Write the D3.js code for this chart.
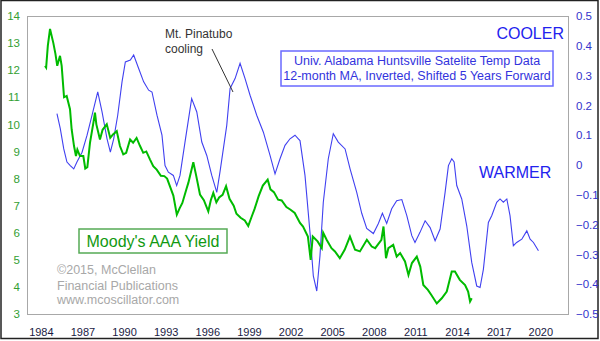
<!DOCTYPE html>
<html><head><meta charset="utf-8">
<script src="https://cdn.jsdelivr.net/npm/d3@7/dist/d3.min.js"></script>
<style>
html,body{margin:0;padding:0;background:#fff;}
svg{display:block;font-family:"Liberation Sans",Arial,sans-serif;}
</style></head>
<body>
<svg id="c" width="600" height="341"></svg>
<script>
// Moody's AAA yield (decimal year, %)
const aaaYears = [1984.30,1984.38,1984.50,1984.66,1984.90,1985.05,1985.18,1985.38,1985.50,1985.67,1985.86,1986.10,1986.22,1986.39,1986.53,1986.63,1986.82,1987.06,1987.20,1987.35,1987.54,1987.80,1987.90,1988.00,1988.26,1988.45,1988.75,1989.00,1989.20,1989.47,1989.70,1989.94,1990.15,1990.43,1990.65,1990.90,1991.15,1991.38,1991.60,1991.87,1992.10,1992.35,1992.65,1992.90,1993.10,1993.30,1993.55,1993.80,1994.00,1994.20,1994.50,1994.63,1994.99,1995.20,1995.47,1995.75,1996.07,1996.25,1996.43,1996.65,1996.85,1997.10,1997.35,1997.60,1997.90,1998.10,1998.40,1998.70,1998.95,1999.20,1999.40,1999.70,2000.00,2000.35,2000.55,2000.80,2001.10,2001.36,2001.70,2002.00,2002.30,2002.68,2002.90,2003.25,2003.45,2003.60,2003.95,2004.25,2004.35,2004.60,2004.95,2005.20,2005.55,2005.90,2006.28,2006.65,2007.00,2007.50,2007.85,2008.10,2008.55,2008.70,2008.88,2009.05,2009.40,2009.65,2009.90,2010.25,2010.50,2010.75,2011.10,2011.35,2011.57,2011.90,2012.15,2012.54,2012.90,2013.26,2013.62,2013.85,2014.20,2014.58,2014.80,2014.94,2015.06];
const aaaYield = [12.16,12.10,12.9,13.52,13.0,12.6,12.16,12.53,12.16,11.0,11.05,10.56,9.81,9.2,8.83,9.07,8.83,8.83,8.37,8.42,9.32,10.10,10.43,10.0,9.44,9.8,10.0,9.5,9.63,9.75,9.2,8.89,8.95,9.44,9.32,9.5,9.2,8.95,9.0,8.7,8.46,8.33,8.1,8.09,8.0,7.72,7.37,6.67,6.9,7.1,7.62,7.84,8.6,8.1,7.41,7.2,6.79,7.2,7.47,7.12,7.3,7.4,7.72,7.25,7.0,6.7,6.55,6.45,6.25,6.6,6.87,7.35,7.74,7.96,7.6,7.5,7.22,7.19,6.95,6.85,6.73,6.36,6.23,5.86,5.0,5.86,5.68,5.43,6.0,5.74,5.43,5.31,5.06,5.37,5.86,5.37,5.31,5.74,5.49,5.43,5.74,6.23,5.06,5.43,5.55,5.12,5.25,4.94,4.44,4.88,5.12,4.75,4.07,3.89,3.7,3.39,3.58,3.83,4.57,4.57,4.26,4.07,3.83,3.46,3.58];

// UAH satellite temp, 12-month MA, inverted, shifted 5 years (decimal year, value)
const uahYears = [1985.16,1985.40,1985.65,1985.88,1986.12,1986.37,1986.60,1986.97,1987.33,1987.69,1988.10,1988.41,1988.77,1989.01,1989.25,1989.54,1989.85,1990.09,1990.45,1990.69,1991.05,1991.41,1991.77,1992.01,1992.37,1992.73,1992.95,1993.19,1993.55,1993.79,1994.03,1994.39,1994.87,1995.24,1995.60,1995.96,1996.32,1996.68,1996.91,1997.40,1997.64,1998.00,1998.36,1998.72,1999.08,1999.56,2000.04,2000.52,2000.88,2001.24,2001.60,2001.96,2002.32,2002.56,2002.68,2003.04,2003.40,2003.64,2003.89,2004.12,2004.36,2004.72,2005.08,2005.44,2005.93,2006.29,2006.77,2007.13,2007.49,2007.97,2008.33,2008.62,2008.93,2009.29,2009.65,2010.02,2010.38,2010.74,2010.97,2011.33,2011.70,2012.06,2012.42,2012.78,2013.14,2013.38,2013.62,2013.79,2013.98,2014.34,2014.70,2015.06,2015.42,2015.66,2015.90,2016.26,2016.50,2016.86,2017.10,2017.34,2017.59,2017.82,2018.06,2018.30,2018.67,2019.03,2019.27,2019.51,2019.87];
const uahTemp = [0.172,0.122,0.054,0.01,-0.002,-0.013,0.01,0.043,0.10,0.167,0.245,0.178,0.088,0.043,0.088,0.167,0.279,0.346,0.352,0.369,0.324,0.279,0.251,0.245,0.167,0.10,-0.002,-0.024,-0.035,-0.069,-0.035,0.077,0.223,0.178,0.077,0.032,-0.035,-0.092,-0.024,0.133,0.257,0.29,0.341,0.29,0.234,0.167,0.11,0.032,-0.03,0.021,0.066,0.088,0.10,0.088,0.082,-0.035,-0.226,-0.372,-0.423,-0.305,-0.125,0.021,0.105,0.077,0.054,-0.013,-0.092,-0.162,-0.213,-0.23,-0.196,-0.162,-0.196,-0.147,-0.12,-0.116,-0.17,-0.237,-0.26,-0.226,-0.187,-0.21,-0.254,-0.215,-0.092,-0.002,0.021,0.01,-0.069,-0.114,-0.204,-0.327,-0.406,-0.411,-0.35,-0.193,-0.17,-0.125,-0.114,-0.125,-0.114,-0.17,-0.271,-0.26,-0.249,-0.221,-0.249,-0.26,-0.288];

const xTicks = [1984,1987,1990,1993,1996,1999,2002,2005,2008,2011,2014,2017,2020];
const leftTicks = [3,4,5,6,7,8,9,10,11,12,13,14];
const rightTicks = [-0.5,-0.4,-0.3,-0.2,-0.1,0,0.1,0.2,0.3,0.4,0.5];

const svg = d3.select("#c");
const L = 27, T = 16, R = 568, B = 314;
const x = d3.scaleLinear().domain([1983, 2022]).range([L, R]);
const yL = d3.scaleLinear().domain([3, 14]).range([B, T]);
const yR = d3.scaleLinear().domain([-0.5, 0.5]).range([B, T]);

// outer border
svg.append("rect").attr("x",1).attr("y",0.5).attr("width",597).attr("height",338)
  .attr("fill","#fff").attr("stroke","#222").attr("stroke-width",1.5);
// plot frame
svg.append("rect").attr("x",L+0.5).attr("y",T+0.5).attr("width",R-L).attr("height",B-T)
  .attr("fill","#fff").attr("stroke","#a8a8a8").attr("stroke-width",1);

// axes (labels only)
const axB = svg.append("g").attr("transform",`translate(0,${B})`)
  .call(d3.axisBottom(x).tickValues(xTicks).tickFormat(d3.format("d")).tickSize(0).tickPadding(14));
axB.select(".domain").remove();
axB.selectAll("text").attr("fill","#1a1a44").style("font-size","11px").style("font-family","'Liberation Sans',Arial,sans-serif");

const axL = svg.append("g").attr("transform",`translate(${L},0)`)
  .call(d3.axisLeft(yL).tickValues(leftTicks).tickFormat(d3.format("d")).tickSize(0).tickPadding(7));
axL.select(".domain").remove();
axL.selectAll("text").attr("fill","#33a033").style("font-size","11.5px").style("font-family","'Liberation Sans',Arial,sans-serif");

const axR = svg.append("g").attr("transform",`translate(${R},0)`)
  .call(d3.axisRight(yR).tickValues(rightTicks).tickFormat(d => d===0 ? "0" : d3.format(".1f")(d)).tickSize(0).tickPadding(8));
axR.select(".domain").remove();
axR.selectAll("text").attr("fill","#3333cc").style("font-size","11.5px").style("font-family","'Liberation Sans',Arial,sans-serif");

// lines
const uah = uahYears.map((t,i)=>[t, uahTemp[i]]);
const aaa = aaaYears.map((t,i)=>[t, aaaYield[i]]);
svg.append("path").datum(uah)
  .attr("d", d3.line().x(d=>x(d[0])).y(d=>yR(d[1])))
  .attr("fill","none").attr("stroke","#4040f0").attr("stroke-width",1.1);
svg.append("path").datum(aaa)
  .attr("d", d3.line().x(d=>x(d[0])).y(d=>yL(d[1])))
  .attr("fill","none").attr("stroke","#00bb00").attr("stroke-width",2);

// annotations
const ann = svg.append("g").attr("font-family","'Liberation Sans',Arial,sans-serif");
ann.append("text").attr("x",165).attr("y",38).attr("font-size","12px").attr("fill","#333").text("Mt. Pinatubo");
ann.append("text").attr("x",165).attr("y",53).attr("font-size","12px").attr("fill","#333").text("cooling");
ann.append("line").attr("x1",212).attr("y1",49).attr("x2",233).attr("y2",92).attr("stroke","#333").attr("stroke-width",1);

ann.append("rect").attr("x",281).attr("y",51).attr("width",272).attr("height",35)
  .attr("fill","#fff").attr("stroke","#6a6aff").attr("stroke-width",1.5);
ann.append("text").attr("x",417).attr("y",64.5).attr("text-anchor","middle").attr("font-size","12.5px").attr("fill","#3333dd")
  .text("Univ. Alabama Huntsville Satelite Temp Data");
ann.append("text").attr("x",417).attr("y",80).attr("text-anchor","middle").attr("font-size","12.5px").attr("fill","#3333dd")
  .text("12-month MA, Inverted, Shifted 5 Years Forward");

ann.append("text").attr("x",564).attr("y",39).attr("text-anchor","end").attr("font-size","16px").attr("fill","#2222ee").text("COOLER");
ann.append("text").attr("x",479).attr("y",178).attr("font-size","16px").attr("fill","#2222ee").text("WARMER");

ann.append("rect").attr("x",79).attr("y",229).attr("width",148).attr("height",24)
  .attr("fill","#fff").attr("stroke","#55aa55").attr("stroke-width",1.5);
ann.append("text").attr("x",153).attr("y",247).attr("text-anchor","middle").attr("font-size","16px").attr("fill","#119911").text("Moody's AAA Yield");

["©2015, McClellan","Financial Publications","www.mcoscillator.com"].forEach((s,i)=>{
  ann.append("text").attr("x",57).attr("y",[274,289.5,304][i]).attr("font-size","12.5px").attr("fill","#a8a8a8").text(s);
});
</script>
</body></html>
